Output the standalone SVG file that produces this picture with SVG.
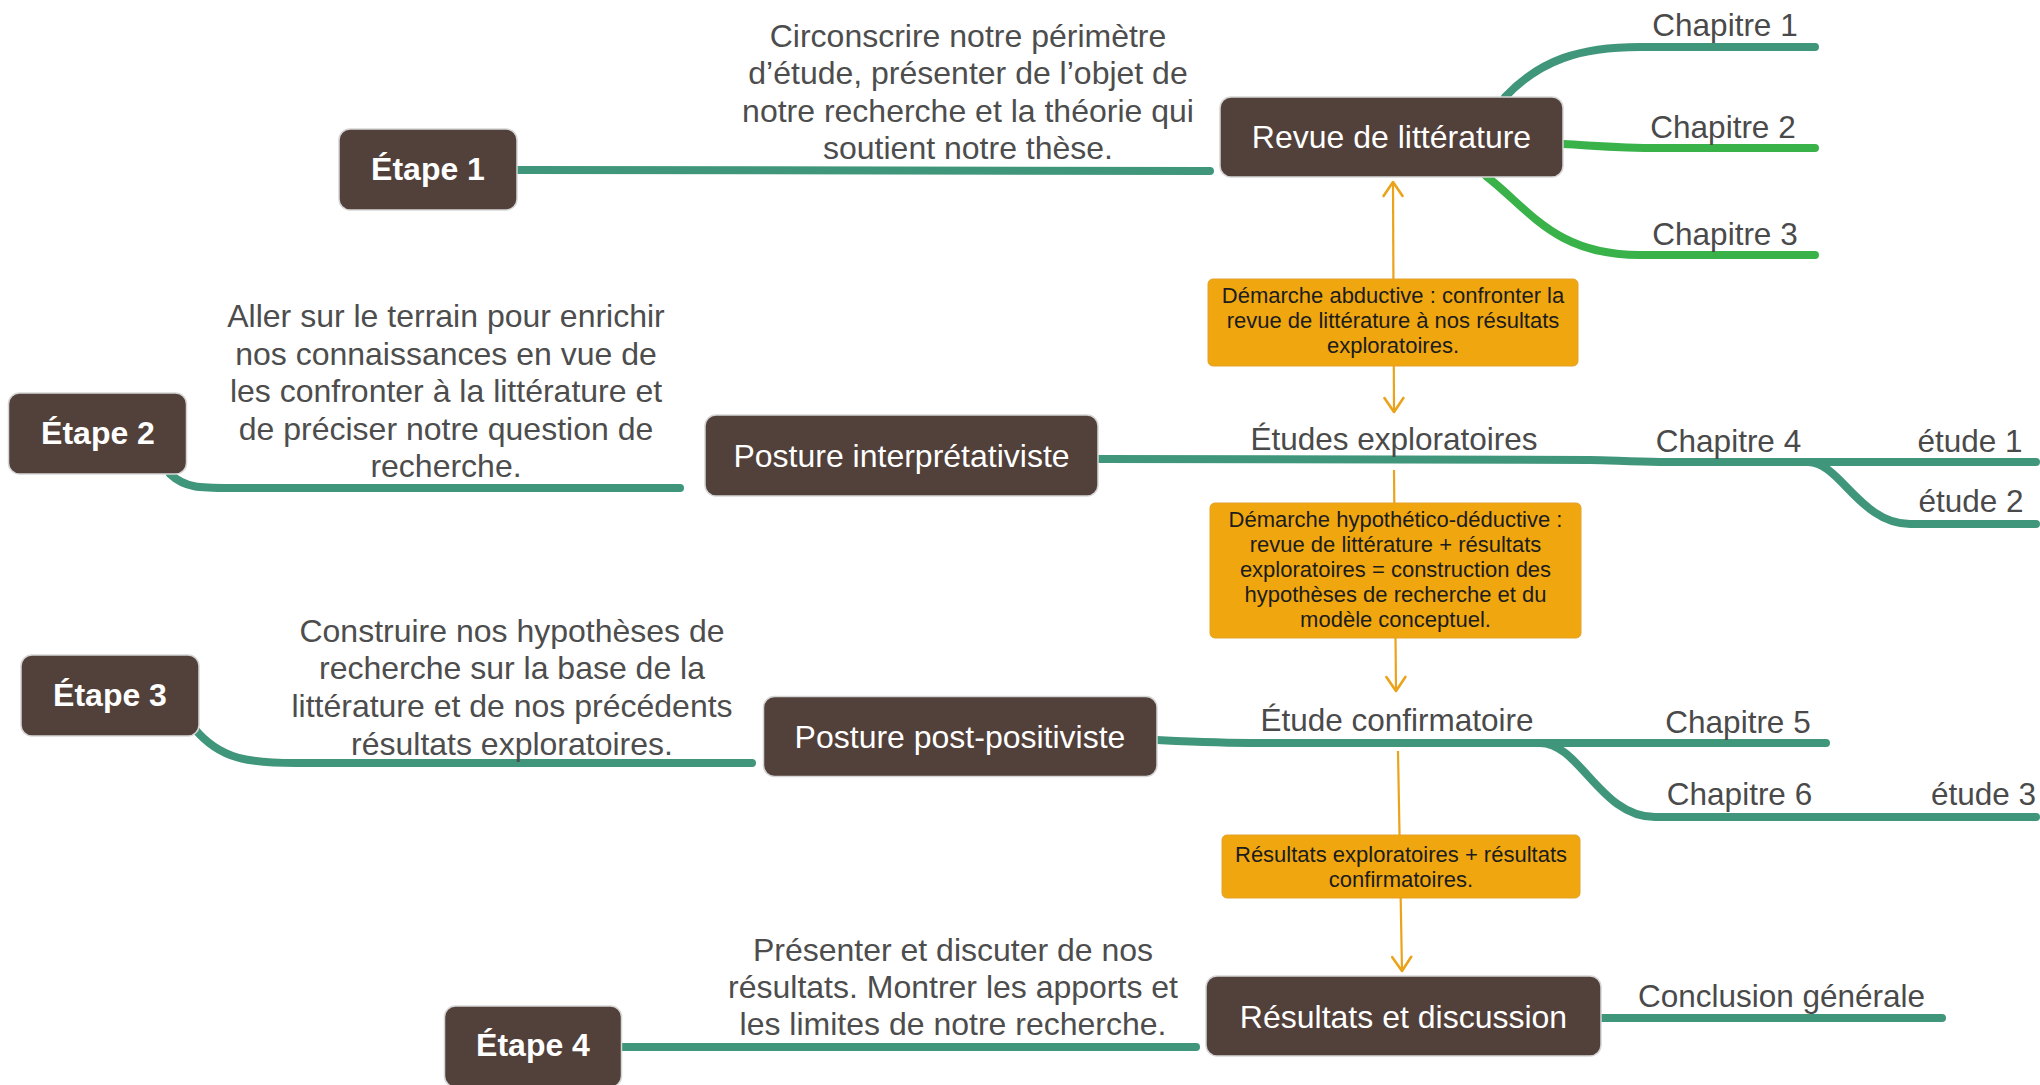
<svg xmlns="http://www.w3.org/2000/svg" width="2040" height="1085" viewBox="0 0 2040 1085">
<defs>
<style>
.bg{fill:#ffffff}
.teal{fill:none;stroke:#40967A;stroke-width:8;stroke-linecap:round;stroke-linejoin:round}
.green{fill:none;stroke:#39B24A;stroke-width:8;stroke-linecap:round;stroke-linejoin:round}
.orl{fill:none;stroke:#EBA31C;stroke-width:2.2}
.node{fill:#52403A;stroke:#d6d6d6;stroke-width:1.5}
.note{fill:#EFA60F;stroke:#e3a22a;stroke-width:1}
.step{font-family:"Liberation Sans",Arial,sans-serif;font-size:32px;font-weight:bold;fill:#ffffff;text-anchor:middle}
.ntxt{font-family:"Liberation Sans",Arial,sans-serif;font-size:32px;fill:#ffffff;text-anchor:middle}
.desc{font-family:"Liberation Sans",Arial,sans-serif;font-size:32px;fill:#4d4d4d;text-anchor:middle}
.lbl{font-family:"Liberation Sans",Arial,sans-serif;font-size:31.5px;fill:#4a4a4a;text-anchor:middle}
.otxt{font-family:"Liberation Sans",Arial,sans-serif;font-size:22px;fill:#1c1c1c;text-anchor:middle}
</style>
<marker id="ah" viewBox="-16 -12 19 24" refX="0" refY="0" markerWidth="19" markerHeight="24" markerUnits="userSpaceOnUse" orient="auto-start-reverse">
<path d="M-14,-9.5 L0,0 L-14,9.5" fill="none" stroke="#EBA31C" stroke-width="2.6" stroke-linecap="round" stroke-linejoin="round"/>
</marker>
</defs>
<rect class="bg" x="0" y="0" width="2040" height="1085"/>

<g id="connectors">
<!-- Étape branches -->
<path class="teal" d="M517,170 L1210,171"/>
<path class="teal" d="M170,474 C185,488 200,488 230,488 L680,488"/>
<path class="teal" d="M194,728 C220,760 250,763 296,763 L752,763"/>
<path class="teal" d="M621,1047 L1196,1047"/>
<!-- Revue de littérature to chapters -->
<path class="teal" d="M1505,97 C1540,60 1580,47 1640,47 L1815,47"/>
<path class="green" d="M1563,144 C1600,146 1620,148 1660,148 L1815,148"/>
<path class="green" d="M1486,176 C1530,210 1555,255 1640,255 L1815,255"/>
<!-- Posture interprétativiste line -->
<path class="teal" d="M1097,459 L1590,460 C1610,460 1630,462 1660,462 L2036,462"/>
<path class="teal" d="M1808,462 C1840,462 1860,524 1910,524 L2036,524"/>
<!-- Posture post-positiviste line -->
<path class="teal" d="M1157,740 C1200,742 1220,743 1260,743 L1826,743"/>
<path class="teal" d="M1540,743 C1580,743 1600,817 1655,817 L2036,817"/>
<!-- Résultats et discussion line -->
<path class="teal" d="M1601,1018 L1942,1018"/>
<!-- orange arrows -->
<path class="orl" d="M1393,182 L1394,412" marker-start="url(#ah)" marker-end="url(#ah)"/>
<path class="orl" d="M1394,470 L1396,691" marker-end="url(#ah)"/>
<path class="orl" d="M1398,751 L1402,971" marker-end="url(#ah)"/>
</g>

<g id="etape1">
<rect class="node" x="339" y="129" width="178" height="81" rx="11"/>
<text class="step" x="428" y="180">Étape 1</text>
</g>
<g id="desc1">
<text class="desc" x="968" y="46.5">Circonscrire notre périmètre</text>
<text class="desc" x="968" y="84.1">d’étude, présenter de l’objet de</text>
<text class="desc" x="968" y="121.7">notre recherche et la théorie qui</text>
<text class="desc" x="968" y="159.3">soutient notre thèse.</text>
</g>
<g id="revue">
<rect class="node" x="1220" y="97" width="343" height="80" rx="11"/>
<text class="ntxt" x="1391.5" y="148">Revue de littérature</text>
</g>
<g id="chap1"><text class="lbl" x="1725" y="36">Chapitre 1</text></g>
<g id="chap2"><text class="lbl" x="1723" y="138">Chapitre 2</text></g>
<g id="chap3"><text class="lbl" x="1725" y="245">Chapitre 3</text></g>

<g id="note1">
<rect class="note" x="1208" y="279" width="370" height="87" rx="5"/>
<text class="otxt" x="1393" y="303.3">Démarche abductive : confronter la</text>
<text class="otxt" x="1393" y="328.3">revue de littérature à nos résultats</text>
<text class="otxt" x="1393" y="353.3">exploratoires.</text>
</g>

<g id="etape2">
<rect class="node" x="8.5" y="393" width="178" height="81" rx="11"/>
<text class="step" x="98" y="443.5">Étape 2</text>
</g>
<g id="desc2">
<text class="desc" x="446" y="327">Aller sur le terrain pour enrichir</text>
<text class="desc" x="446" y="364.6">nos connaissances en vue de</text>
<text class="desc" x="446" y="402.2">les confronter à la littérature et</text>
<text class="desc" x="446" y="439.8">de préciser notre question de</text>
<text class="desc" x="446" y="477.4">recherche.</text>
</g>
<g id="posture-interp">
<rect class="node" x="705" y="415" width="393" height="81" rx="11"/>
<text class="ntxt" x="901.5" y="467">Posture interprétativiste</text>
</g>
<g id="etudes-explo"><text class="lbl" x="1394" y="450">Études exploratoires</text></g>
<g id="chap4"><text class="lbl" x="1728.5" y="451.7">Chapitre 4</text></g>
<g id="etude1"><text class="lbl" x="1970" y="451.7">étude 1</text></g>
<g id="etude2"><text class="lbl" x="1971" y="511.7">étude 2</text></g>

<g id="note2">
<rect class="note" x="1210" y="503" width="371" height="135" rx="5"/>
<text class="otxt" x="1395.5" y="526.7">Démarche hypothético-déductive :</text>
<text class="otxt" x="1395.5" y="551.7">revue de littérature + résultats</text>
<text class="otxt" x="1395.5" y="576.7">exploratoires = construction des</text>
<text class="otxt" x="1395.5" y="601.7">hypothèses de recherche et du</text>
<text class="otxt" x="1395.5" y="626.7">modèle conceptuel.</text>
</g>

<g id="etape3">
<rect class="node" x="21" y="655" width="178" height="81" rx="11"/>
<text class="step" x="110" y="706">Étape 3</text>
</g>
<g id="desc3">
<text class="desc" x="512" y="641.7">Construire nos hypothèses de</text>
<text class="desc" x="512" y="679.4">recherche sur la base de la</text>
<text class="desc" x="512" y="717.1">littérature et de nos précédents</text>
<text class="desc" x="512" y="754.8">résultats exploratoires.</text>
</g>
<g id="posture-post">
<rect class="node" x="763.5" y="696.5" width="393.5" height="80" rx="11"/>
<text class="ntxt" x="960" y="748">Posture post-positiviste</text>
</g>
<g id="etude-confirm"><text class="lbl" x="1397" y="731">Étude confirmatoire</text></g>
<g id="chap5"><text class="lbl" x="1738" y="732.7">Chapitre 5</text></g>
<g id="chap6"><text class="lbl" x="1739.5" y="805">Chapitre 6</text></g>
<g id="etude3"><text class="lbl" x="1983.5" y="805">étude 3</text></g>

<g id="note3">
<rect class="note" x="1222" y="835" width="358" height="63" rx="5"/>
<text class="otxt" x="1401" y="862">Résultats exploratoires + résultats</text>
<text class="otxt" x="1401" y="886.5">confirmatoires.</text>
</g>

<g id="etape4">
<rect class="node" x="444.5" y="1006" width="177" height="81" rx="11"/>
<text class="step" x="533" y="1056">Étape 4</text>
</g>
<g id="desc4">
<text class="desc" x="953" y="961">Présenter et discuter de nos</text>
<text class="desc" x="953" y="998">résultats. Montrer les apports et</text>
<text class="desc" x="953" y="1035">les limites de notre recherche.</text>
</g>
<g id="resultats">
<rect class="node" x="1206" y="976" width="395" height="80" rx="11"/>
<text class="ntxt" x="1403.5" y="1027.5">Résultats et discussion</text>
</g>
<g id="conclusion"><text class="lbl" x="1781.5" y="1007">Conclusion générale</text></g>
</svg>
